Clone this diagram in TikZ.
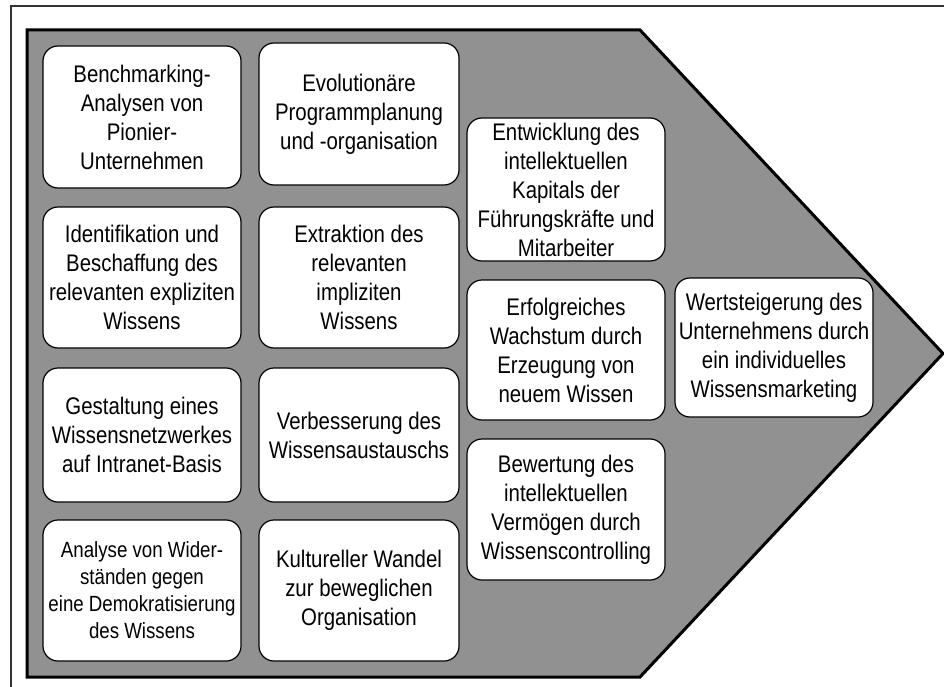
\documentclass[tikz,border=0pt]{standalone}
\usepackage{fontspec}
\setmainfont{Liberation Sans}[FakeStretch=0.85]
\definecolor{arrowgray}{RGB}{145,145,145}
\begin{document}
\begin{tikzpicture}[x=1pt,y=-1pt,
  box/.style={draw=black, line width=1.2pt, fill=white, rounded corners=15pt,
    align=center, inner sep=0pt,
    font=\fontsize{24}{29}\selectfont},
  smallbox/.style={box, font=\fontsize{22}{27}\selectfont},
  frameline/.style={draw=black!80, line width=1.5pt},
  chevron/.style={draw=black, line width=3pt, fill=arrowgray, line join=miter}]
\useasboundingbox (0,0) rectangle (944,687);

% outer frame
\draw[frameline] (11,687) -- (11,6) -- (944,6);

% chevron-shaped background
\draw[chevron] (27,30) -- (640,30) -- (943,353.5) -- (640,677) -- (27,677) -- cycle;

% first column
\node[box, minimum width=198pt, minimum height=142pt] (b11) at (142,117)
  {Benchmarking-\\Analysen von\\Pionier-\\Unternehmen};
\node[box, minimum width=198pt, minimum height=141pt] (b12) at (142,277.5)
  {Identifikation und\\Beschaffung des\\relevanten expliziten\\Wissens};
\node[box, minimum width=198pt, minimum height=134pt] (b13) at (142,435)
  {Gestaltung eines\\Wissensnetzwerkes\\auf Intranet-Basis};
\node[smallbox, minimum width=198pt, minimum height=141pt] (b14) at (142,590.5)
  {Analyse von Wider-\\ständen gegen\\eine Demokratisierung\\des Wissens};

% second column
\node[box, minimum width=200pt, minimum height=142pt] (b21) at (359,114)
  {Evolutionäre\\Programmplanung\\und -organisation};
\node[box, minimum width=200pt, minimum height=141pt] (b22) at (359,277.5)
  {Extraktion des\\relevanten\\impliziten\\Wissens};
\node[box, minimum width=200pt, minimum height=134pt] (b23) at (359,435)
  {Verbesserung des\\Wissensaustauschs};
\node[box, minimum width=200pt, minimum height=141pt] (b24) at (359,590.5)
  {Kultureller Wandel\\zur beweglichen\\Organisation};

% third column
\node[box, minimum width=198pt, minimum height=143pt] (b31) at (566,189.5)
  {Entwicklung des\\intellektuellen\\Kapitals der\\Führungskräfte und\\Mitarbeiter};
\node[box, minimum width=198pt, minimum height=140pt] (b32) at (566,350)
  {Erfolgreiches\\Wachstum durch\\Erzeugung von\\neuem Wissen};
\node[box, minimum width=198pt, minimum height=141pt] (b33) at (566,509.5)
  {Bewertung des\\intellektuellen\\Vermögen durch\\Wissenscontrolling};

% result at the tip
\node[box, minimum width=198pt, minimum height=139pt] (b41) at (774,347.5)
  {Wertsteigerung des\\Unternehmens durch\\ein individuelles\\Wissensmarketing};
\end{tikzpicture}
\end{document}
